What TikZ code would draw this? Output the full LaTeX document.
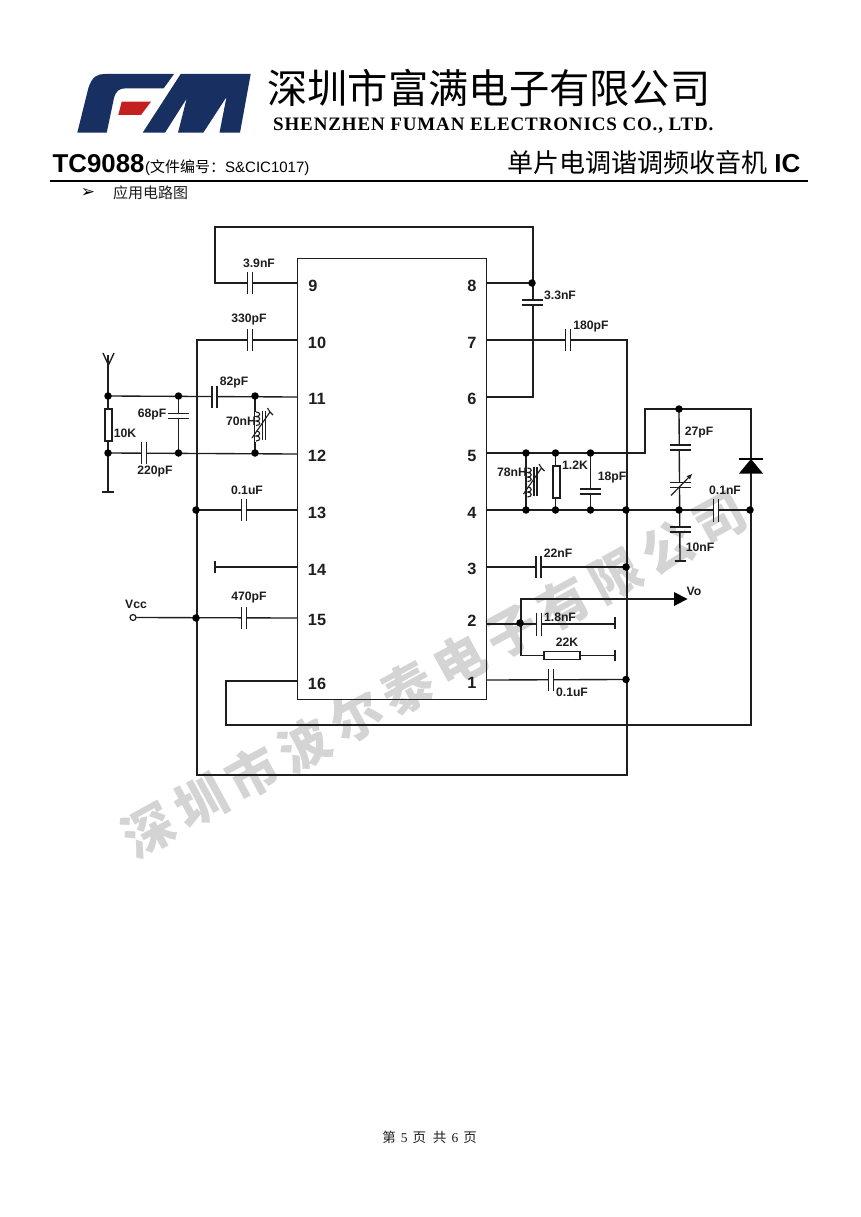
\documentclass[tikz,border=0pt]{standalone}
\usepackage{fontspec}
\usetikzlibrary{arrows.meta}
\setmainfont{Liberation Sans}
\newfontfamily\cjk{Noto Sans CJK SC}
\newfontfamily\wmfont[LetterSpace=16]{Noto Sans CJK SC}
\newfontfamily\serifen{Liberation Serif}
\newfontfamily\serifsp[LetterSpace=4.5]{Liberation Serif}
\newfontfamily\dejavu{DejaVu Sans}
\newcommand{\fs}[1]{\fontsize{#1}{#1}\selectfont}
\definecolor{fmnavy}{HTML}{182F62}
\definecolor{fmred}{HTML}{C4201F}
\definecolor{wm}{HTML}{D4D4D4}
\definecolor{ink}{HTML}{1E1E1E}
\tikzset{
  wire/.style={draw=ink,line width=1.35pt},
  plate/.style={draw=ink,line width=1.5pt},
  jdot/.style={fill=black,draw=none,circle,inner sep=0pt,minimum size=7.5pt},
  complabel/.style={font=\fs{12.2}\bfseries,inner sep=0pt,text=ink},
  pinlabel/.style={font=\fs{16.3}\bfseries,inner sep=0pt,text=ink},
  resv/.style={draw=ink,line width=1.3pt,fill=white,inner sep=0pt,minimum width=7pt,minimum height=32pt},
  resh/.style={draw=ink,line width=1.3pt,fill=white,inner sep=0pt,minimum width=36pt,minimum height=8pt},
  chip/.style={draw=ink,line width=1.35pt,inner sep=0pt,minimum width=189pt,minimum height=441pt},
}
\newcommand{\hcap}[3]{% plates vertical, wire horizontal: x y half-length
  \fill[white] (#1-2.4,#2-4) rectangle (#1+2.4,#2+4);
  \draw[plate] (#1-2.4,#2-#3) -- (#1-2.4,#2+#3) (#1+2.4,#2-#3) -- (#1+2.4,#2+#3);}
\newcommand{\vcap}[3]{% plates horizontal, wire vertical: x y half-length
  \fill[white] (#1-4,#2-2.4) rectangle (#1+4,#2+2.4);
  \draw[plate] (#1-#3,#2-2.4) -- (#1+#3,#2-2.4) (#1-#3,#2+2.4) -- (#1+#3,#2+2.4);}
\newcommand{\coil}[2]{% x, y top: adjustable inductor on a vertical wire
  \fill[white] (#1-1,#2) rectangle (#1+1,#2+30);
  \draw[wire,line width=1.1pt] (#1,#2) .. controls (#1+5,#2) and (#1+5,#2+4.5) .. (#1,#2+4.5)
     .. controls (#1+5,#2+4.5) and (#1+5,#2+9) .. (#1,#2+9)
     .. controls (#1+5,#2+9) and (#1+5,#2+13.5) .. (#1,#2+13.5);
  \draw[wire,line width=1.1pt] (#1,#2+19) .. controls (#1+5,#2+19) and (#1+5,#2+24) .. (#1,#2+24)
     .. controls (#1+5,#2+24) and (#1+5,#2+29) .. (#1,#2+29);
  \draw[plate,line width=1.3pt] (#1+6.5,#2-1) -- (#1+6.5,#2+28) (#1+9.5,#2-1) -- (#1+9.5,#2+28);
  \draw[line width=1.1pt,ink] (#1-4,#2+26) -- (#1+14,#2) (#1+14,#2) -- (#1+11.5,#2-4) (#1+14,#2) -- (#1+17,#2+3);}
\begin{document}
\begin{tikzpicture}[x=1pt,y=-1pt]
\useasboundingbox (0,0) rectangle (860,1217);
\fill[white] (0,0) rectangle (860,1217);

% --- watermark
\node[rotate=28.6,inner sep=0pt,text=wm,font=\wmfont\fs{51}\bfseries] (watermark) at (434,674) {深圳市波尔泰电子有限公司};

% --- logo
\fill[fmnavy] (77.3,132.7) -- (88.3,88.3) .. controls (92,76) and (98,74) .. (105,74) -- (174,74)
  -- (163.7,88.3) -- (126,88.3) .. controls (119,88.3) and (116,91) .. (114,98) -- (106.7,132.7) -- cycle;
\fill[fmnavy] (142.7,132.7) -- (180.7,74) -- (250.7,74) -- (240,132.7) -- (219.5,132.7) -- (226.5,97)
  -- (203.3,132.7) -- (178,132.7) -- (186.7,98.5) -- (165,132.7) -- cycle;
\fill[fmred] (121.7,101.7) -- (151,101.7) -- (141,115) -- (118.3,115) -- cycle;

% --- header
\node[anchor=west,inner sep=0pt,font=\cjk\fs{40.3}] (cname) at (267,88) {深圳市富满电子有限公司};
\node[anchor=west,inner sep=0pt,font=\serifsp\fs{19}\bfseries] (ename) at (273,125.5) {SHENZHEN FUMAN ELECTRONICS CO., LTD.};
\node[anchor=base west,inner sep=0pt,font=\fs{25.8}\bfseries] (tc) at (52.5,172) {TC9088};
\node[anchor=base west,inner sep=0pt,font=\fs{15}] (docno) at (145,172) {({\cjk 文件编号：}S\&CIC1017)};
\node[anchor=base west,inner sep=0pt,font=\fs{26}] (title) at (507,172) {{\cjk 单片电调谐调频收音机} \bfseries IC};
\draw[line width=1.5pt,black] (50,181) coordinate (ruleL) -- (808,181) coordinate (ruleR);
\node[inner sep=0pt,font=\dejavu\fs{17}] (bullet) at (88,193) {➢};
\node[anchor=west,inner sep=0pt,font=\cjk\fs{15},text=ink] (sect) at (113,193) {应用电路图};
\node[inner sep=0pt,font=\fs{13.5},text=ink] (foot) at (429.5,1137) {{\cjk 第}\hspace{5pt}{\serifen 5}\hspace{5pt}{\cjk 页}\hspace{7pt}{\cjk 共}\hspace{5pt}{\serifen 6}\hspace{5pt}{\cjk 页}};

% --- chip and pins
\node[chip,anchor=north west] (ic) at (297,258) {};
\foreach \n/\y in {9/283,10/340,11/397,12/454,13/510,14/567,15/618,16/681}
  \coordinate (p\n) at (297,\y);
\foreach \n/\y in {8/283,7/340,6/397,5/453,4/510,3/567,2/624,1/680}
  \coordinate (p\n) at (486,\y);
\foreach \n/\x/\y in {9/313/286,10/317/343,11/317/399,12/317/456,13/317/513,14/317/570,15/317/620,16/317/684,
                      8/472/286,7/472/343,6/472/399,5/472/456,4/472/513,3/472/569,2/472/621,1/472/683}
  \node[pinlabel] (lab\n) at (\x,\y) {\n};

% --- junction coordinates
\coordinate (jA1) at (108,396); \coordinate (jA2) at (178.5,396); \coordinate (jA3) at (255,396);
\coordinate (jB1) at (108,453); \coordinate (jB2) at (178.5,453); \coordinate (jB3) at (255,453);
\coordinate (j8) at (532,283);
\coordinate (jL13) at (196,510); \coordinate (jL15) at (196,618);
\coordinate (jC1) at (526,453); \coordinate (jC2) at (555.5,453); \coordinate (jC3) at (590.5,453);
\coordinate (jD1) at (526,510); \coordinate (jD2) at (555.5,510); \coordinate (jD3) at (590.5,510);
\coordinate (jD4) at (626,510); \coordinate (jD5) at (679,510); \coordinate (jD6) at (750,510);
\coordinate (jT) at (679,409);
\coordinate (j3) at (626,567); \coordinate (j1) at (626,679.5); \coordinate (j2) at (520,623);
\coordinate (antTop) at (108,355); \coordinate (antGnd) at (108,492);
\coordinate (vcc) at (133,617.5);
\coordinate (vo) at (674,599);
\coordinate (g18) at (615,624); \coordinate (g22) at (615,655.5); \coordinate (g10) at (680,561); \coordinate (g14) at (215,567);

% --- wires
\draw[wire] (p9) -- (215,283) -- (215,227) -- (533,227) -- (533,397) -- (p6);
\draw[wire] (p8) -- (j8);
\draw[wire] (p10) -- (197,340) -- (197,775) -- (627,775) -- (627,340) -- (p7);
\draw[wire] (antTop) -- (antGnd);
\draw[wire] (103,353) -- (108.5,365) -- (114,353);
\draw[wire] (102,492) -- (114,492);
\draw[wire] (jA1) -- (p11);
\draw[wire] (jB1) -- (p12);
\draw[wire] (jA2) -- (jB2);
\draw[wire] (jA3) -- (jB3);
\draw[wire] (jL13) -- (p13);
\draw[wire] (p14) -- (g14); \draw[wire] (215,561) -- (215,572.5);
\draw[wire] (vcc) ++(3,0) -- (p15);
\draw[wire] (p5) -- (645,453) -- (645,409) -- (751,409) -- (751,725) -- (226,725) -- (226,681) -- (p16);
\draw[wire] (p4) -- (jD6);
\draw[wire] (jC1) -- (jD1); \draw[wire] (jC2) -- (jD2); \draw[wire] (jC3) -- (jD3);
\draw[wire] (jT) -- (g10); \draw[wire] (674.5,561) -- (685.5,561);
\draw[wire] (p3) -- (j3);
\draw[wire] (p1) -- (j1);
\draw[wire] (p2) -- (g18); \draw[wire] (615,617) -- (615,629);
\draw[wire] (521,623) -- (521,599) -- (vo);
\draw[wire] (521,623) -- (521,655.5) -- (g22); \draw[wire] (615,650) -- (615,661);

% --- capacitors
\hcap{250}{283}{11}
\hcap{250}{340}{11}
\hcap{214.5}{397}{11}
\hcap{144}{453}{11}
\vcap{178.5}{416}{10.5}
\hcap{244}{510}{11}
\hcap{244}{618}{11}
\vcap{532.5}{302.5}{10.5}
\hcap{568}{340}{11}
\vcap{590.5}{491.5}{10.5}
\vcap{680}{447.5}{10.5}
\vcap{680}{529.5}{10.5}
\hcap{716}{510}{11.5}
\hcap{538.5}{567}{11}
\hcap{539}{624}{11.5}
\hcap{551}{680}{11}
% variable capacitor
\vcap{680}{485}{10.5}
\draw[line width=1.2pt,ink,-{Latex[length=6pt,width=5pt]}] (671,495.5) -- (692.5,473.5);

% --- inductors
\coil{256}{412}
\coil{527.5}{468}

% --- resistors
\node[resv] (r10k) at (108.5,425) {};
\node[resv] (r12k) at (556.5,482) {};
\node[resh] (r22k) at (562,655.5) {};

% --- diode
\fill[black] (751,459) -- (763,473.5) -- (739,473.5) -- cycle;
\draw[line width=1.4pt,black] (739,459) -- (763,459);

% --- Vo arrow and Vcc terminal
\fill[black] (674,592) -- (687.5,599) -- (674,606) -- cycle;
\draw[line width=1.2pt,ink,fill=white] (vcc) circle [radius=3pt];

% --- dots
\foreach \j in {jA1,jA2,jA3,jB1,jB2,jB3,j8,jL13,jL15,jC1,jC2,jC3,jD1,jD2,jD3,jD4,jD5,jD6,jT,j3,j1,j2}
  \node[jdot] (dot\j) at (\j) {};

% --- labels
\foreach \t/\x/\y/\nm in {3.9nF/259/263/a,330pF/249/320/b,82pF/234/383/c,68pF/152/415/d,70nH/241/421/e,10K/125/433/f,220pF/155/472/g,0.1uF/247/490.5/h,470pF/249/598/i,
    3.3nF/560/295/j,180pF/591/327/k,78nH/512/472/l,1.2K/575/465/m,18pF/612/478/n,27pF/699/433/o,0.1nF/725/490/p,10nF/700/547/q,22nF/558/553/r,1.8nF/560/617/s,22K/567/642/t,0.1uF/572/692/u,Vo/694/591/v,Vcc/136/604/w}
  \node[complabel] (lbl\nm) at (\x,\y) {\t};
\end{tikzpicture}
\end{document}
